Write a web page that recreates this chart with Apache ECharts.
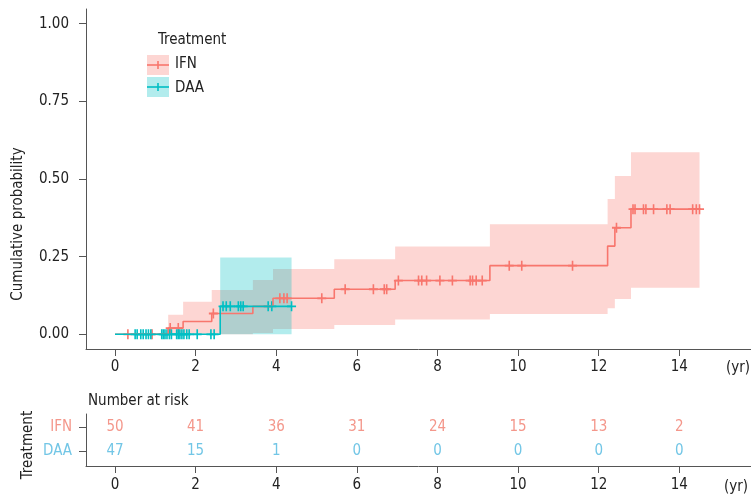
<!DOCTYPE html>
<html><head><meta charset="utf-8">
<script src="https://cdn.jsdelivr.net/npm/echarts@6/dist/echarts.min.js"></script>
<style>html,body{margin:0;padding:0;background:#fff}#c{width:751px;height:499px}</style>
</head><body><div id="c"></div>
<script>
// ---------- data ----------
const xTicks = [0, 2, 4, 6, 8, 10, 12, 14];
const yTicks = [0, 0.25, 0.5, 0.75, 1];
const groups = ['IFN', 'DAA'];

const ifnStepTimes = [0, 1.32, 1.69, 2.40, 3.42, 3.92, 5.44, 6.95, 9.30, 12.22, 12.40, 12.80, 14.50];
const ifnStepProb  = [0, 0.020, 0.041, 0.067, 0.090, 0.116, 0.145, 0.173, 0.221, 0.284, 0.343, 0.403, 0.403];
const ifnLower     = [0, 0, 0, 0, 0.004, 0.017, 0.030, 0.048, 0.065, 0.084, 0.114, 0.150, 0.150];
const ifnUpper     = [0, 0.063, 0.105, 0.143, 0.175, 0.210, 0.242, 0.283, 0.354, 0.436, 0.510, 0.586, 0.586];
const ifnCensor = [0.32, 0.92, 1.37, 1.57, 2.44, 4.09, 4.19, 4.27, 5.13, 5.71, 6.41, 6.68, 6.74, 7.03,
  7.53, 7.61, 7.73, 8.06, 8.37, 8.81, 8.87, 8.96, 9.11, 9.78, 10.09, 11.35, 12.44, 12.85, 12.90,
  13.11, 13.17, 13.36, 13.69, 13.77, 14.33, 14.42, 14.50];

const daaStepTimes = [0, 2.61, 4.38];
const daaStepProb  = [0, 0.090, 0.090];
const daaLower     = [0, 0, 0];
const daaUpper     = [0, 0.247, 0.247];
const daaCensor = [0.50, 0.55, 0.64, 0.70, 0.77, 0.83, 0.89, 1.16, 1.20, 1.24, 1.29, 1.35, 1.40,
  1.53, 1.57, 1.61, 1.66, 1.71, 1.78, 1.84, 2.04, 2.38, 2.46, 2.68, 2.76, 2.86, 3.06, 3.12, 3.18,
  3.80, 3.89, 4.38];

const riskTimes = [0, 2, 4, 6, 8, 10, 12, 14];
const ifnRisk = [50, 41, 36, 31, 24, 15, 13, 2];
const daaRisk = [47, 15, 1, 0, 0, 0, 0, 0];

// ---------- style ----------
const FONT = '"DejaVu Sans Condensed","DejaVu Sans",sans-serif';
const RED = '#F8766D', CYAN = '#00BFC4';
const RED_FILL = 'rgba(248,118,109,0.3)', CYAN_FILL = 'rgba(0,191,196,0.3)';
const RED_TXT = '#F4978B', CYAN_TXT = '#72C6E6';
const AX = '#555555', TXT = '#222222';
const PLUS = 'path://M0,4.1H4.1V0H5.9V4.1H10V5.9H5.9V10H4.1V5.9H0Z';

function levelAt(times, probs, t) {
  let v = probs[0];
  for (let i = 0; i < times.length; i++) if (times[i] <= t) v = probs[i];
  return v;
}
function bandSeries(times, lower, upper, fill) {
  return {
    type: 'custom', xAxisIndex: 0, yAxisIndex: 0, clip: false, silent: true,
    data: [[times[0], lower[0]]],
    renderItem(params, api) {
      const pts = [];
      for (let i = 0; i < times.length - 1; i++) {
        pts.push(api.coord([times[i], upper[i]]));
        pts.push(api.coord([times[i + 1], upper[i]]));
      }
      for (let i = times.length - 2; i >= 0; i--) {
        pts.push(api.coord([times[i + 1], lower[i]]));
        pts.push(api.coord([times[i], lower[i]]));
      }
      return { type: 'polygon', shape: { points: pts }, style: { fill: fill, stroke: null } };
    }
  };
}
function lineSeries(times, probs, color) {
  return {
    type: 'line', xAxisIndex: 0, yAxisIndex: 0, step: 'end', showSymbol: false, silent: true,
    data: times.map((t, i) => [t, probs[i]]),
    lineStyle: { color: color, width: 1.6 }, itemStyle: { color: color }
  };
}
function censorSeries(cens, times, probs, color) {
  return {
    type: 'scatter', xAxisIndex: 0, yAxisIndex: 0, silent: true,
    symbol: PLUS, symbolSize: [9, 10],
    data: cens.map(t => [t, levelAt(times, probs, t)]),
    itemStyle: { color: color, opacity: 1 }
  };
}
function riskSeries(counts, row, color) {
  return {
    type: 'custom', xAxisIndex: 1, yAxisIndex: 1, clip: false, silent: true,
    data: riskTimes.map((t, i) => [t, row, counts[i]]),
    renderItem(params, api) {
      const p = api.coord([api.value(0), api.value(1)]);
      return { type: 'text', x: p[0], y: p[1],
        style: { text: String(api.value(2)), fill: color, font: '15px ' + FONT,
                 align: 'center', verticalAlign: 'middle' } };
    }
  };
}

const XMIN = -0.719, XMAX = 15.777;
const axLine = { show: true, onZero: false, lineStyle: { color: AX, width: 1 } };
const tick = (vals) => ({ show: true, length: 7, customValues: vals, lineStyle: { color: AX, width: 1 } });

const chart = echarts.init(document.getElementById('c'), null, { renderer: 'canvas' });
chart.setOption({
  animation: false,
  backgroundColor: '#ffffff',
  textStyle: { fontFamily: FONT },
  grid: [
    { left: 86, top: 9, right: 0, height: 340 },
    { left: 86, top: 414, right: 0, height: 52 }
  ],
  xAxis: [
    { type: 'value', gridIndex: 0, min: XMIN, max: XMAX, position: 'bottom',
      axisLine: axLine, splitLine: { show: false }, axisTick: tick(xTicks),
      axisLabel: { customValues: xTicks, color: TXT, fontSize: 15, fontFamily: FONT, margin: 11 } },
    { type: 'value', gridIndex: 1, min: XMIN, max: XMAX, position: 'bottom',
      axisLine: axLine, splitLine: { show: false }, axisTick: tick(xTicks),
      axisLabel: { customValues: xTicks, color: TXT, fontSize: 15, fontFamily: FONT, margin: 12 } }
  ],
  yAxis: [
    { type: 'value', gridIndex: 0, min: -0.0473, max: 1.0473, position: 'left',
      axisLine: axLine, splitLine: { show: false }, axisTick: tick(yTicks),
      axisLabel: { customValues: yTicks, color: TXT, fontSize: 15, fontFamily: FONT, margin: 17,
        formatter: v => Number(v).toFixed(2) } },
    { type: 'value', gridIndex: 1, min: 0.37, max: 2.55, position: 'left',
      axisLine: axLine, splitLine: { show: false }, axisTick: tick([1, 2]),
      axisLabel: { customValues: [1, 2], fontSize: 15, fontFamily: FONT, margin: 14,
        formatter: v => (Number(v) === 2 ? groups[0] : groups[1]),
        color: v => (Number(v) === 2 ? RED_TXT : CYAN_TXT) } }
  ],
  series: [
    bandSeries(ifnStepTimes, ifnLower, ifnUpper, RED_FILL),
    lineSeries(ifnStepTimes, ifnStepProb, RED),
    censorSeries(ifnCensor, ifnStepTimes, ifnStepProb, RED),
    bandSeries(daaStepTimes, daaLower, daaUpper, CYAN_FILL),
    lineSeries(daaStepTimes, daaStepProb, CYAN),
    censorSeries(daaCensor, daaStepTimes, daaStepProb, CYAN),
    riskSeries(ifnRisk, 2, RED_TXT),
    riskSeries(daaRisk, 1, CYAN_TXT)
  ],
  graphic: [
    { type: 'text', x: 18, y: 224, rotation: Math.PI / 2,
      style: { text: 'Cumulative probability', font: '15px ' + FONT, fill: TXT, align: 'center', verticalAlign: 'middle' } },
    { type: 'text', x: 28, y: 445, rotation: Math.PI / 2,
      style: { text: 'Treatment', font: '15px ' + FONT, fill: TXT, align: 'center', verticalAlign: 'middle' } },
    { type: 'text', x: 726, y: 368,
      style: { text: '(yr)', font: '15px ' + FONT, fill: TXT, align: 'left', verticalAlign: 'middle' } },
    { type: 'text', x: 724, y: 487,
      style: { text: '(yr)', font: '15px ' + FONT, fill: TXT, align: 'left', verticalAlign: 'middle' } },
    { type: 'text', x: 88, y: 401,
      style: { text: 'Number at risk', font: '15px ' + FONT, fill: TXT, align: 'left', verticalAlign: 'middle' } },
    // legend
    { type: 'text', x: 158, y: 40,
      style: { text: 'Treatment', font: '15px ' + FONT, fill: TXT, align: 'left', verticalAlign: 'middle' } },
    { type: 'rect', shape: { x: 147, y: 55, width: 22, height: 20 }, style: { fill: RED_FILL } },
    { type: 'line', shape: { x1: 147, y1: 65, x2: 169, y2: 65 }, style: { stroke: RED, lineWidth: 1.6 } },
    { type: 'line', shape: { x1: 158, y1: 61, x2: 158, y2: 69 }, style: { stroke: RED, lineWidth: 1.6 } },
    { type: 'text', x: 175, y: 64,
      style: { text: groups[0], font: '15px ' + FONT, fill: TXT, align: 'left', verticalAlign: 'middle' } },
    { type: 'rect', shape: { x: 147, y: 77, width: 22, height: 20 }, style: { fill: CYAN_FILL } },
    { type: 'line', shape: { x1: 147, y1: 87, x2: 169, y2: 87 }, style: { stroke: CYAN, lineWidth: 1.6 } },
    { type: 'line', shape: { x1: 158, y1: 83, x2: 158, y2: 91 }, style: { stroke: CYAN, lineWidth: 1.6 } },
    { type: 'text', x: 175, y: 88,
      style: { text: groups[1], font: '15px ' + FONT, fill: TXT, align: 'left', verticalAlign: 'middle' } }
  ]
});
</script>
</body></html>
